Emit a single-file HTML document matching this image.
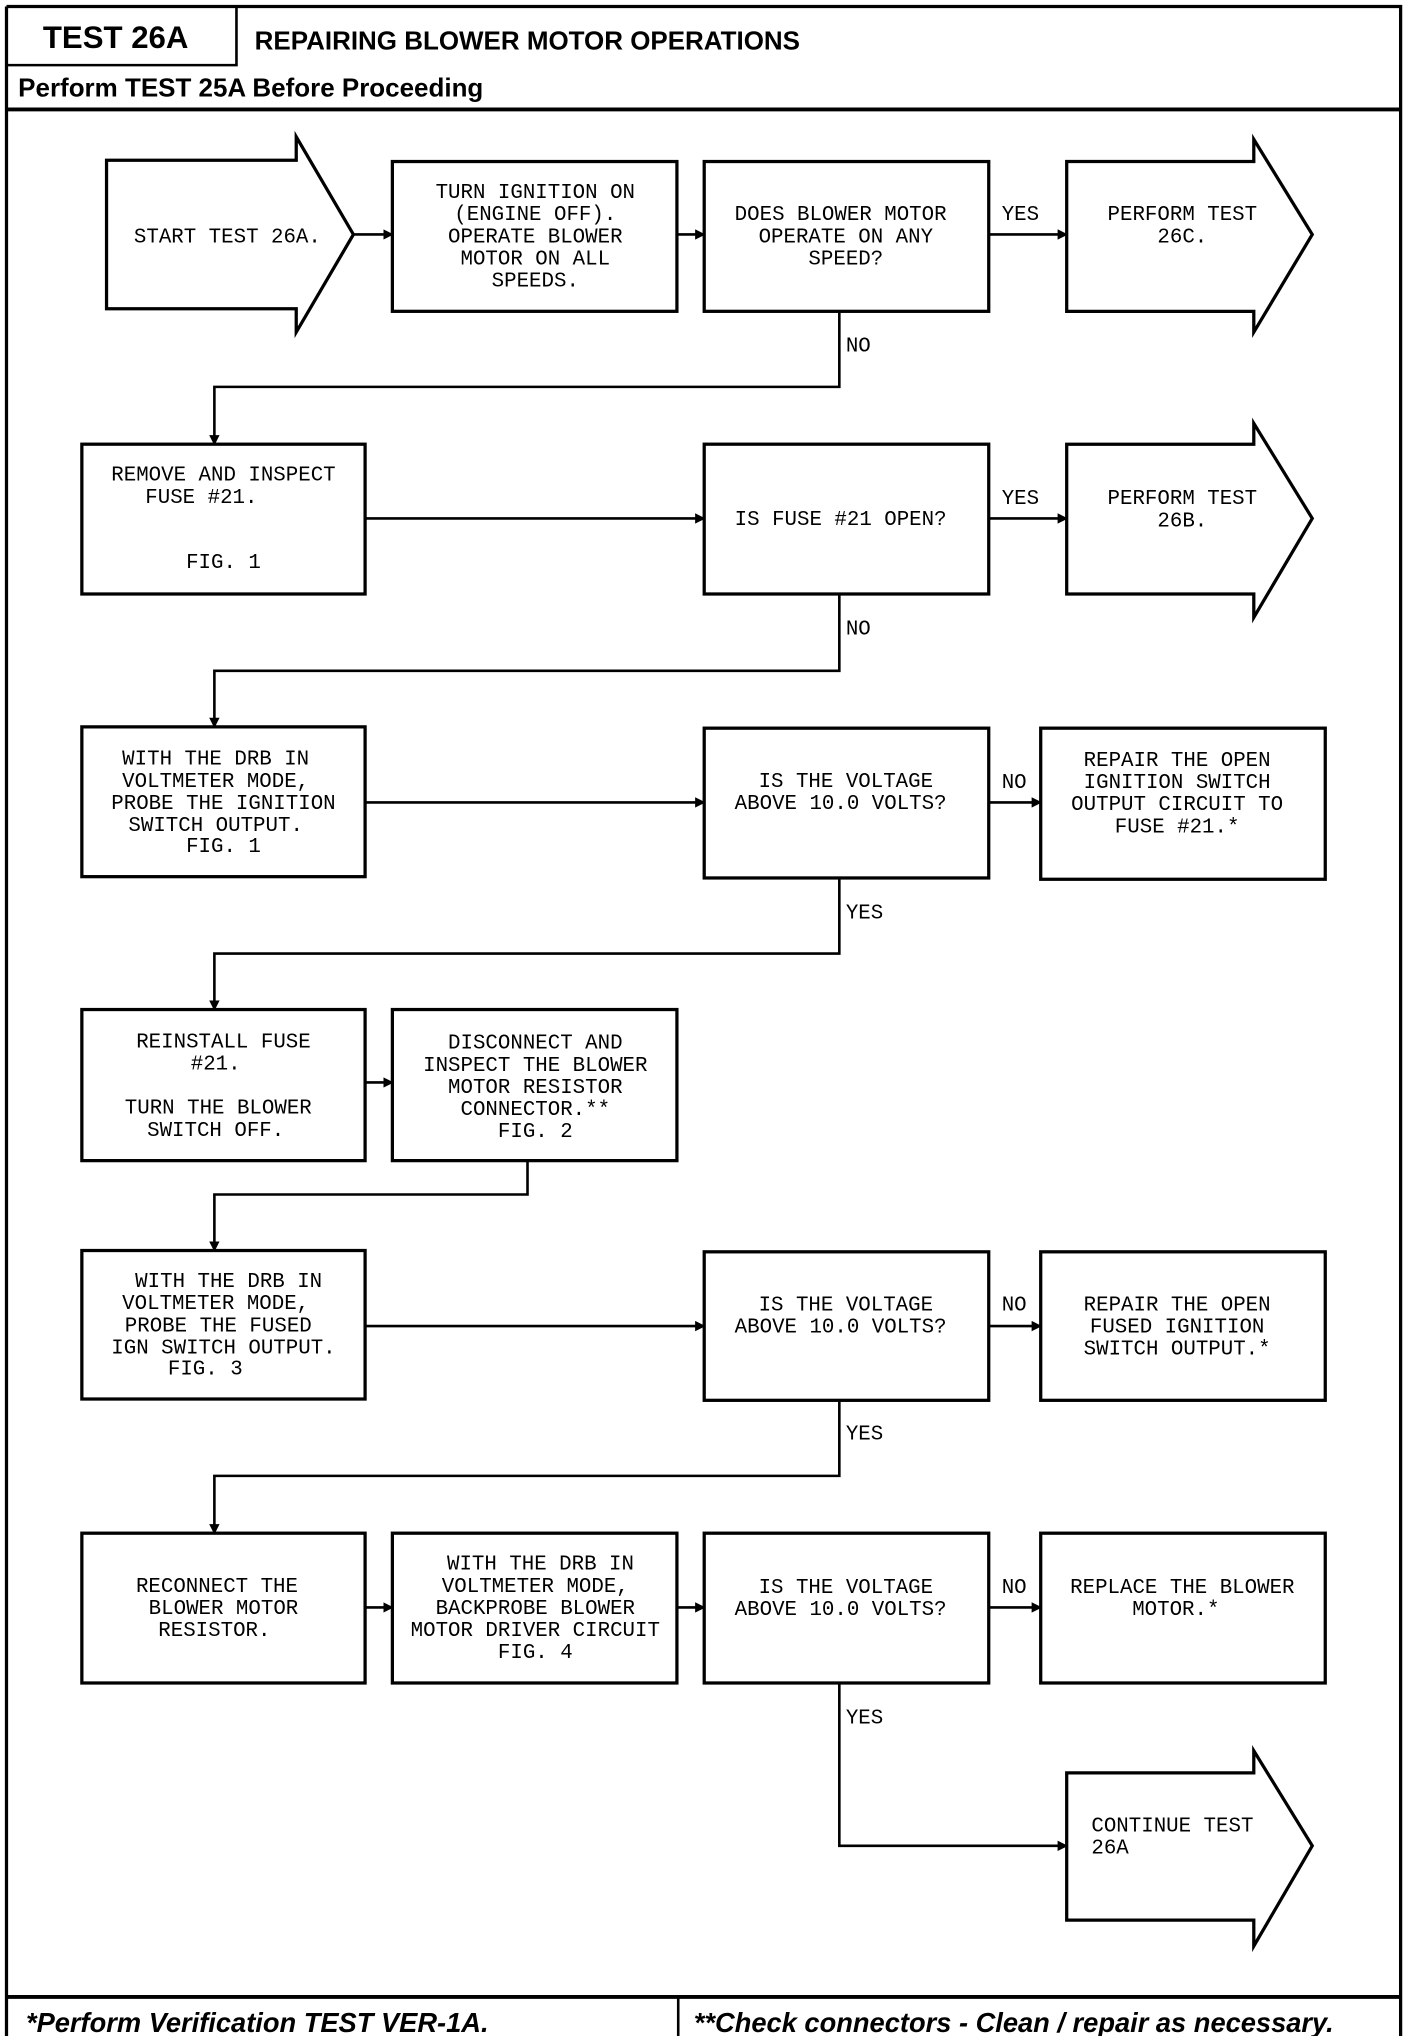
<!DOCTYPE html>
<html><head><meta charset="utf-8">
<style>
html,body{margin:0;padding:0;background:#fff;}
svg{display:block;}
.m{font-family:"Liberation Mono",monospace;font-size:16px;fill:#000;}
.h{font-family:"Liberation Sans",sans-serif;font-weight:bold;fill:#000;}
</style></head><body>
<svg width="1424" height="2036" viewBox="0 0 1096 1563" preserveAspectRatio="none" xmlns="http://www.w3.org/2000/svg">
<defs><marker id="a" markerWidth="8" markerHeight="8" refX="7" refY="4" orient="auto" markerUnits="userSpaceOnUse"><path d="M0,0 L8,4 L0,8 Z" fill="#000"/></marker></defs>
<rect x="0" y="0" width="1096" height="1563" fill="#fff"/>
<g fill="none" stroke="#000">
<!-- frame -->
<path d="M5,5 H1078 V1563 M5,5 V1563" stroke-width="2.5"/>
<path d="M5,50 H182 V5" stroke-width="2"/>
<path d="M5,84 H1078" stroke-width="3"/>
<path d="M5,1533 H1078" stroke-width="3"/>
<path d="M522,1533 V1563" stroke-width="2"/>
<g stroke-width="2.5">
<!-- row1 -->
<path d="M82,123 H228 V105 L272,180 L228,255 V237 H82 Z"/>
<rect x="302" y="124" width="219" height="115"/>
<rect x="542" y="124" width="219" height="115"/>
<path d="M821,124 H965 V107 L1010,180 L965,255 V239 H821 Z"/>
<!-- row2 -->
<rect x="63" y="341" width="218" height="115"/>
<rect x="542" y="341" width="219" height="115"/>
<path d="M821,341 H965 V325 L1010,398 L965,474 V456 H821 Z"/>
<!-- row3 -->
<rect x="63" y="558" width="218" height="115"/>
<rect x="542" y="559" width="219" height="115"/>
<rect x="801" y="559" width="219" height="116"/>
<!-- row4 -->
<rect x="63" y="775" width="218" height="116"/>
<rect x="302" y="775" width="219" height="116"/>
<!-- row5 -->
<rect x="63" y="960" width="218" height="114"/>
<rect x="542" y="961" width="219" height="114"/>
<rect x="801" y="961" width="219" height="114"/>
<!-- row6 -->
<rect x="63" y="1177" width="218" height="115"/>
<rect x="302" y="1177" width="219" height="115"/>
<rect x="542" y="1177" width="219" height="115"/>
<rect x="801" y="1177" width="219" height="115"/>
<path d="M821,1361 H965 V1344 L1010,1417 L965,1494 V1474 H821 Z"/>
</g>
<g stroke-width="2" marker-end="url(#a)">
<path d="M272,180 H302"/>
<path d="M521,180 H542"/>
<path d="M761,180 H821"/>
<path d="M646,239 V297 H165 V341"/>
<path d="M281,398 H542"/>
<path d="M761,398 H821"/>
<path d="M646,456 V515 H165 V558"/>
<path d="M281,616 H542"/>
<path d="M761,616 H801"/>
<path d="M646,674 V732 H165 V775"/>
<path d="M281,831 H302"/>
<path d="M406,891 V917 H165 V960"/>
<path d="M281,1018 H542"/>
<path d="M761,1018 H801"/>
<path d="M646,1075 V1133 H165 V1177"/>
<path d="M281,1234 H302"/>
<path d="M521,1234 H542"/>
<path d="M761,1234 H801"/>
<path d="M646,1292 V1417 H821"/>
</g>
</g>
<!-- header text -->
<text class="h" x="33" y="37" font-size="24">TEST 26A</text>
<text class="h" x="196" y="38" font-size="20">REPAIRING BLOWER MOTOR OPERATIONS</text>
<text class="h" x="14" y="74" font-size="20">Perform TEST 25A Before Proceeding</text>
<text class="h" x="20" y="1560" font-size="21" font-style="italic">*Perform Verification TEST VER-1A.</text>
<text class="h" x="534" y="1560" font-size="21" font-style="italic">**Check connectors - Clean / repair as necessary.</text>
<g class="m" text-anchor="middle">
<text x="175" y="186">START TEST 26A.</text>
<text x="412" y="152">TURN IGNITION ON</text>
<text x="412" y="169">(ENGINE OFF).</text>
<text x="412" y="186">OPERATE BLOWER</text>
<text x="412" y="203">MOTOR ON ALL</text>
<text x="412" y="220">SPEEDS.</text>
<text x="647" y="169">DOES BLOWER MOTOR</text>
<text x="651" y="186">OPERATE ON ANY</text>
<text x="651" y="203">SPEED?</text>
<text x="910" y="169">PERFORM TEST</text>
<text x="910" y="186">26C.</text>
<text x="172" y="369">REMOVE AND INSPECT</text>
<text x="155" y="386">FUSE #21.</text>
<text x="172" y="436">FIG. 1</text>
<text x="647" y="403">IS FUSE #21 OPEN?</text>
<text x="910" y="387">PERFORM TEST</text>
<text x="910" y="404">26B.</text>
<text x="166" y="587">WITH THE DRB IN</text>
<text x="166" y="604">VOLTMETER MODE,</text>
<text x="172" y="621">PROBE THE IGNITION</text>
<text x="166" y="638">SWITCH OUTPUT.</text>
<text x="172" y="654">FIG. 1</text>
<text x="651" y="604">IS THE VOLTAGE</text>
<text x="647" y="621">ABOVE 10.0 VOLTS?</text>
<text x="906" y="588">REPAIR THE OPEN</text>
<text x="906" y="605">IGNITION SWITCH</text>
<text x="906" y="622">OUTPUT CIRCUIT TO</text>
<text x="906" y="639">FUSE #21.*</text>
<text x="172" y="804">REINSTALL FUSE</text>
<text x="166" y="821">#21.</text>
<text x="168" y="855">TURN THE BLOWER</text>
<text x="166" y="872">SWITCH OFF.</text>
<text x="412" y="805">DISCONNECT AND</text>
<text x="412" y="822">INSPECT THE BLOWER</text>
<text x="412" y="839">MOTOR RESISTOR</text>
<text x="412" y="856">CONNECTOR.**</text>
<text x="412" y="873">FIG. 2</text>
<text x="176" y="988">WITH THE DRB IN</text>
<text x="166" y="1005">VOLTMETER MODE,</text>
<text x="168" y="1022">PROBE THE FUSED</text>
<text x="172" y="1039">IGN SWITCH OUTPUT.</text>
<text x="158" y="1055">FIG. 3</text>
<text x="651" y="1006">IS THE VOLTAGE</text>
<text x="647" y="1023">ABOVE 10.0 VOLTS?</text>
<text x="906" y="1006">REPAIR THE OPEN</text>
<text x="906" y="1023">FUSED IGNITION</text>
<text x="906" y="1040">SWITCH OUTPUT.*</text>
<text x="167" y="1222">RECONNECT THE</text>
<text x="172" y="1239">BLOWER MOTOR</text>
<text x="165" y="1256">RESISTOR.</text>
<text x="416" y="1205">WITH THE DRB IN</text>
<text x="412" y="1222">VOLTMETER MODE,</text>
<text x="412" y="1239">BACKPROBE BLOWER</text>
<text x="412" y="1256">MOTOR DRIVER CIRCUIT</text>
<text x="412" y="1273">FIG. 4</text>
<text x="651" y="1223">IS THE VOLTAGE</text>
<text x="647" y="1240">ABOVE 10.0 VOLTS?</text>
<text x="910" y="1223">REPLACE THE BLOWER</text>
<text x="905" y="1240">MOTOR.*</text>
</g>
<g class="m">
<text x="840" y="1406">CONTINUE TEST</text>
<text x="840" y="1423">26A</text>
<text x="771" y="169">YES</text>
<text x="651" y="270">NO</text>
<text x="771" y="387">YES</text>
<text x="651" y="487">NO</text>
<text x="771" y="605">NO</text>
<text x="651" y="705">YES</text>
<text x="771" y="1006">NO</text>
<text x="651" y="1105">YES</text>
<text x="771" y="1223">NO</text>
<text x="651" y="1323">YES</text>
</g>
</svg>
</body></html>
